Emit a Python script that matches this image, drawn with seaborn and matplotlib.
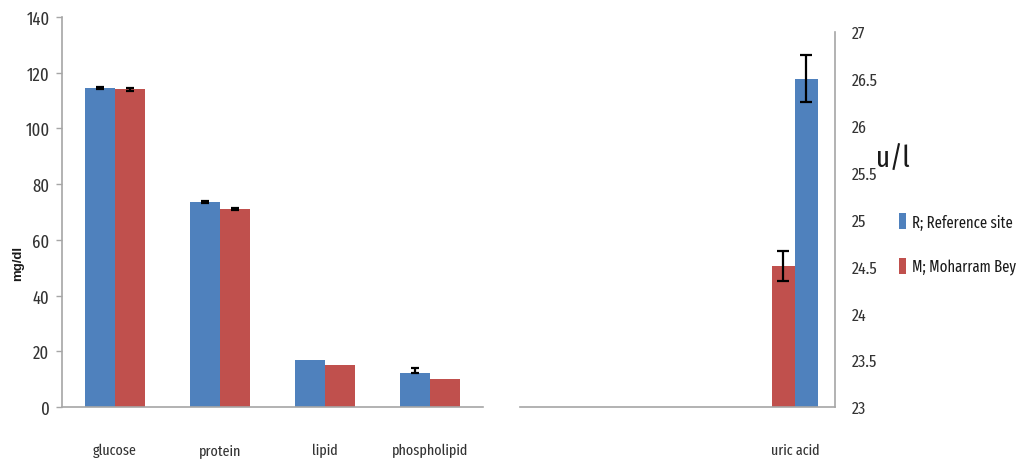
import matplotlib
matplotlib.use("Agg")
import matplotlib.pyplot as plt
import seaborn as sns
import pandas as pd
import numpy as np
from matplotlib.patches import Patch

# ---- data ----
categories = ["glucose", "protein", "lipid", "phospholipid"]
series = ["R; Reference site", "M; Moharram Bey"]
r_values = [114.5, 73.6, 17.0, 12.3]
m_values = [114.1, 71.0, 14.9, 10.1]
r_err_low = [0.5, 0.3, 0.0, 0.0]
r_err_high = [0.5, 0.3, 0.0, 1.7]
m_err = [0.5, 0.3, 0.0, 0.0]

uric_category = ["uric acid"]
uric_r = [26.5]
uric_m = [24.5]
uric_r_err = [0.25]
uric_m_err = [0.16]

left_ticks = [0, 20, 40, 60, 80, 100, 120, 140]
right_ticks = [23, 23.5, 24, 24.5, 25, 25.5, 26, 26.5, 27]

BLUE = "#4F81BD"
RED = "#C0504D"
GRAY = "#A6A6A6"
TXT = "#333333"

sns.set_theme(style="white")
plt.rcParams["font.family"] = ["Fira Sans Extra Condensed", "Carlito", "DejaVu Sans"]

fig = plt.figure(figsize=(10.23, 4.64), dpi=100)
W, H = 1023, 464

def axrect(x0, x1, ytop, ybot):
    return [x0 / W, 1 - ybot / H, (x1 - x0) / W, (ybot - ytop) / H]

ax1 = fig.add_axes(axrect(62, 483, 18, 408))
ax2 = fig.add_axes(axrect(520, 835, 33, 408))

# ---- left panel ----
df1 = pd.DataFrame({
    "category": categories * 2,
    "value": r_values + m_values,
    "series": [series[0]] * 4 + [series[1]] * 4,
})
sns.barplot(data=df1, x="category", y="value", hue="series", order=categories,
            hue_order=series, palette=[BLUE, RED], width=0.57, errorbar=None,
            ax=ax1, legend=False, saturation=1, linewidth=0)

bars = ax1.patches
r_bars = bars[:4]
m_bars = bars[4:8]
for b, v, lo, hi in zip(r_bars, r_values, r_err_low, r_err_high):
    if lo + hi > 0:
        ax1.errorbar(b.get_x() + b.get_width() / 2, v, yerr=[[lo], [hi]],
                     fmt="none", ecolor="black", elinewidth=1.6, capsize=3, capthick=1.6)
for b, v, e in zip(m_bars, m_values, m_err):
    if e > 0:
        ax1.errorbar(b.get_x() + b.get_width() / 2, v, yerr=e,
                     fmt="none", ecolor="black", elinewidth=1.6, capsize=3, capthick=1.6)

ax1.set_ylim(0, 140)
ax1.set_yticks(left_ticks)
ax1.set_yticklabels([str(t) for t in left_ticks], fontsize=13)
ax1.set_xlim(-0.5, len(categories) - 0.5)
ax1.set_xlabel("")
ax1.set_ylabel("")
ax1.set_xticks(range(len(categories)))
ax1.set_xticklabels(categories, fontsize=11, color=TXT)
ax1.set_xticks(np.arange(-0.5, len(categories), 1.0), minor=True)
ax1.tick_params(axis="x", which="major", length=0, pad=26)
ax1.tick_params(axis="x", which="minor", length=5, color=GRAY, width=1)
ax1.tick_params(axis="y", length=4, color=GRAY, width=1, left=True, pad=5, labelcolor=TXT)
for s in ["top", "right"]:
    ax1.spines[s].set_visible(False)
for s in ["left", "bottom"]:
    ax1.spines[s].set_color(GRAY)
    ax1.spines[s].set_linewidth(1.2)

# ---- right panel (uric acid) ----
df2 = pd.DataFrame({
    "category": uric_category * 2,
    "value": uric_m + uric_r,
    "series": [series[1], series[0]],
})
sns.barplot(data=df2, x="category", y="value", hue="series",
            hue_order=[series[1], series[0]], palette=[RED, BLUE], width=0.73,
            errorbar=None, ax=ax2, legend=False, saturation=1, linewidth=0)
ax2.set_ylim(23, 27)
ub = ax2.patches
for b, v, e in zip(ub[:2], uric_m + uric_r, uric_m_err + uric_r_err):
    b.set_y(23)
    b.set_height(v - 23)
    ax2.errorbar(b.get_x() + b.get_width() / 2, v, yerr=e,
                 fmt="none", ecolor="black", elinewidth=1.6, capsize=4, capthick=1.6)
ax2.set_xlim(-4.365, 0.635)
ax2.set_xlabel("")
ax2.set_ylabel("")
ax2.set_xticks([0])
ax2.set_xticklabels(uric_category, fontsize=11, color=TXT)
ax2.tick_params(axis="x", length=0, pad=26)
ax2.yaxis.tick_right()
ax2.set_yticks(right_ticks)
ax2.set_yticklabels([f"{t:g}" for t in right_ticks], fontsize=12.5)
ax2.tick_params(axis="y", length=0, pad=12, labelcolor=TXT)
for s in ["top", "left"]:
    ax2.spines[s].set_visible(False)
for s in ["right", "bottom"]:
    ax2.spines[s].set_color(GRAY)
    ax2.spines[s].set_linewidth(1.2)

# ---- labels ----
fig.text(18 / W, 1 - 263 / H, "mg/dl", rotation=90, ha="center", va="center",
         fontsize=9.5, fontweight="bold", family=["Liberation Sans", "DejaVu Sans"], color="#1a1a1a")
fig.text(893 / W, 1 - 160 / H, "u/l", ha="center", va="center", fontsize=21, color="#1a1a1a")

handles = [Patch(facecolor=BLUE, edgecolor="none"), Patch(facecolor=RED, edgecolor="none")]
fig.legend(handles, series, loc="center left", bbox_to_anchor=(899 / W, 1 - 245 / H),
           frameon=False, fontsize=11.5, handlelength=0.45, handleheight=1.2,
           handletextpad=0.35, labelspacing=1.75, borderpad=0, borderaxespad=0,
           labelcolor="#1a1a1a")

fig.savefig("out.png", dpi=100)
